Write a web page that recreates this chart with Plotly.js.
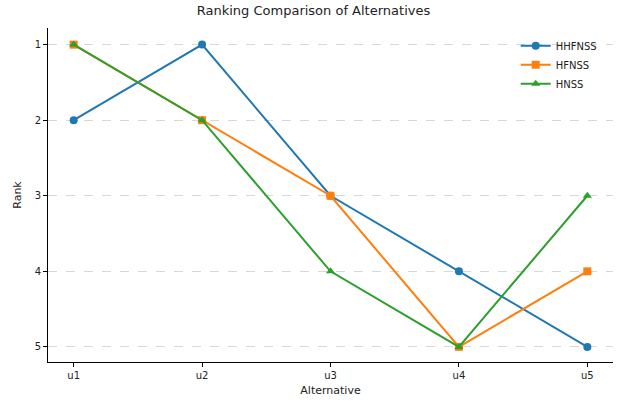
<!DOCTYPE html>
<html>
<head>
<script src="https://cdn.plot.ly/plotly-3.0.1.min.js"></script>
<style>html,body{margin:0;padding:0;background:#fff;}</style>
</head>
<body>
<div id="chart" style="width:627px;height:409px;"></div>
<script>
const alternatives = ['u1', 'u2', 'u3', 'u4', 'u5'];
const hhfnss = [2, 1, 3, 4, 5];
const hfnss  = [1, 2, 3, 5, 4];
const hnss   = [1, 2, 4, 5, 3];

function series(name, y, color, symbol){
  return {
    x: alternatives, y: y, name: name, type: 'scatter', mode: 'lines+markers',
    line: {color: color, width: 2},
    marker: {color: color, size: 8, symbol: symbol}
  };
}

const data = [
  series('HHFNSS', hhfnss, '#1f77b4', 'circle'),
  series('HFNSS', hfnss, '#ff7f0e', 'square'),
  series('HNSS', hnss, '#2ca02c', 'triangle-up')
];

const layout = {
  width: 627, height: 409,
  margin: {l: 48, r: 14, t: 28, b: 47},
  font: {family: 'DejaVu Sans', size: 10, color: '#222'},
  title: {text: 'Ranking Comparison of Alternatives', font: {size: 13}, x: 0.5, y: 0.985, yanchor: 'top'},
  showlegend: true,
  legend: {x: 0.98, y: 0.99, xanchor: 'right', yanchor: 'top', bgcolor: 'rgba(0,0,0,0)', font: {size: 10}},
  xaxis: {
    title: {text: 'Alternative', font: {size: 11}, standoff: 6},
    range: [-0.2, 4.2], showgrid: false, zeroline: false,
    showline: true, linecolor: '#000', linewidth: 1,
    ticks: 'outside', ticklen: 4, tickcolor: '#000'
  },
  yaxis: {
    title: {text: 'Rank', font: {size: 11}, standoff: 10},
    range: [5.2, 0.78], tickvals: [1, 2, 3, 4, 5],
    showgrid: true, gridcolor: '#d8d8d8', griddash: 'dash', gridwidth: 1,
    zeroline: false, showline: true, linecolor: '#000', linewidth: 1,
    ticks: 'outside', ticklen: 4, tickcolor: '#000'
  },
  plot_bgcolor: '#fff', paper_bgcolor: '#fff'
};

Plotly.newPlot('chart', data, layout, {displayModeBar: false, staticPlot: true});
</script>
</body>
</html>
